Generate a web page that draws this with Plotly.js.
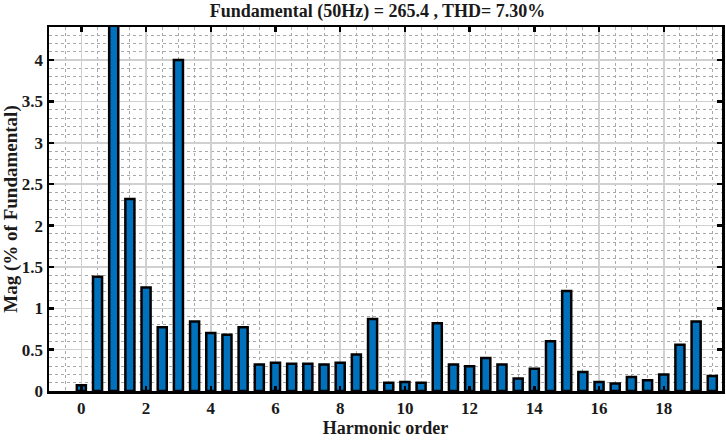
<!DOCTYPE html>
<html>
<head>
<meta charset="utf-8">
<script src="https://cdn.plot.ly/plotly-3.0.1.min.js"></script>
<style>
  html, body { margin: 0; padding: 0; background: #fff; }
  #plot { width: 726px; height: 441px; }
</style>
</head>
<body>
<div id="plot"></div>
<script>
// Harmonic orders (half-order steps) and magnitudes in % of fundamental
var harmonicOrder = [0, 0.5, 1, 1.5, 2, 2.5, 3, 3.5, 4, 4.5,
                     5, 5.5, 6, 6.5, 7, 7.5, 8, 8.5, 9, 9.5,
                     10, 10.5, 11, 11.5, 12, 12.5, 13, 13.5, 14, 14.5,
                     15, 15.5, 16, 16.5, 17, 17.5, 18, 18.5, 19, 19.5];
var magPercent = [0.07, 1.38, 100, 2.32, 1.25, 0.77, 4.0, 0.84, 0.70, 0.68,
                  0.77, 0.32, 0.34, 0.33, 0.33, 0.32, 0.34, 0.44, 0.87, 0.10,
                  0.11, 0.10, 0.82, 0.32, 0.30, 0.40, 0.32, 0.15, 0.27, 0.60,
                  1.21, 0.23, 0.11, 0.09, 0.17, 0.13, 0.20, 0.56, 0.84, 0.18];
var xTickVals = [0, 2, 4, 6, 8, 10, 12, 14, 16, 18];
var yTickVals = [0, 0.5, 1, 1.5, 2, 2.5, 3, 3.5, 4];

var serif = "'Liberation Serif', 'Times New Roman', serif";

var trace = {
    x: harmonicOrder,
    y: magPercent,
    type: 'bar',
    width: 0.28,
    marker: {
        color: '#0072BD',
        line: { color: '#000000', width: 2.5 }
    },
    hoverinfo: 'x+y'
};

var axisCommon = {
    showline: true,
    linecolor: '#000000',
    linewidth: 2.5,
    mirror: 'ticks',
    ticks: 'inside',
    ticklen: 5,
    tickwidth: 2.5,
    tickcolor: '#000000',
    showgrid: true,
    gridcolor: '#d0d0d0',
    gridwidth: 1.5,
    zeroline: false,
    tickfont: { family: serif, size: 17, color: '#1a1a1a', weight: 700 }
};

var layout = {
    width: 726,
    height: 441,
    paper_bgcolor: '#ffffff',
    plot_bgcolor: '#ffffff',
    margin: { t: 27, r: 4, b: 50, l: 49 },
    showlegend: false,
    bargap: 0,
    title: {
        text: 'Fundamental (50Hz) = 265.4 , THD= 7.30%',
        font: { family: serif, size: 18, color: '#1a1a1a', weight: 700 },
        x: 0.52,
        xanchor: 'center',
        y: 0.99,
        yanchor: 'top'
    },
    xaxis: Object.assign({}, axisCommon, {
        range: [-1, 19.8],
        tickmode: 'array',
        tickvals: xTickVals,
        ticktext: xTickVals.map(String),
        minor: { dtick: 0.5, tick0: 0, showgrid: true, gridcolor: '#a8a8a8', griddash: 'dot', gridwidth: 1 },
        title: {
            text: 'Harmonic order',
            font: { family: serif, size: 18, color: '#1a1a1a', weight: 700 },
            standoff: 2
        }
    }),
    yaxis: Object.assign({}, axisCommon, {
        range: [0, 4.4],
        tickmode: 'array',
        tickvals: yTickVals,
        ticktext: yTickVals.map(String),
        minor: { dtick: 0.1, tick0: 0, showgrid: true, gridcolor: '#a8a8a8', griddash: 'dot', gridwidth: 1 },
        title: {
            text: 'Mag (% of Fundamental)',
            font: { family: serif, size: 19, color: '#1a1a1a', weight: 700 },
            standoff: 4
        }
    })
};

var config = { staticPlot: true, displayModeBar: false };

Plotly.newPlot('plot', [trace], layout, config);
</script>
</body>
</html>
